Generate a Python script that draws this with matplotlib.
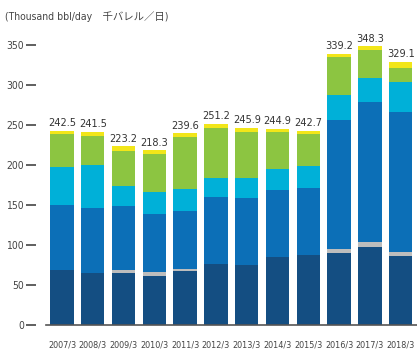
import numpy as np
import matplotlib
matplotlib.use("Agg")
import matplotlib.pyplot as plt

plt.rcParams["font.family"] = ["DejaVu Sans", "Noto Sans CJK JP"]
plt.rcParams["font.stretch"] = "condensed"

years = ["2007/3", "2008/3", "2009/3", "2010/3", "2011/3", "2012/3",
         "2013/3", "2014/3", "2015/3", "2016/3", "2017/3", "2018/3"]

# production by segment, thousand bbl/day (stacked bottom to top)
navy = [68.8, 65.0, 65.0, 61.0, 67.5, 76.0, 75.0, 85.0, 87.5, 90.0, 97.5, 86.0]
gray = [0.0, 0.0, 3.8, 5.0, 2.5, 0.0, 0.0, 0.0, 0.0, 5.0, 6.2, 5.0]
blue = [81.2, 81.7, 80.0, 73.0, 72.5, 84.0, 83.8, 83.8, 83.5, 161.0, 175.3, 175.0]
cyan = [47.5, 53.3, 25.2, 27.7, 27.5, 24.0, 25.0, 26.2, 27.8, 31.5, 30.0, 38.0]
green = [41.5, 36.7, 43.5, 47.3, 65.0, 62.0, 57.9, 46.0, 40.0, 47.5, 35.0, 17.5]
yellow = [3.5, 4.8, 5.7, 4.3, 4.6, 5.2, 4.2, 3.9, 3.9, 4.2, 4.3, 7.6]

series = [navy, gray, blue, cyan, green, yellow]
colors = ["#144e82", "#bdbdbd", "#0c6fb7", "#00b0d8", "#8cc541", "#f2e619"]

W, H = 417, 349
fig = plt.figure(figsize=(W / 100, H / 100), dpi=100)
ax = fig.add_axes([46 / W, (H - 325) / H, (W - 46) / W, 280 / H])

x = np.arange(len(years))
bottom = np.zeros(len(years))
for vals, c in zip(series, colors):
    ax.bar(x, vals, width=0.76, bottom=bottom, color=c, linewidth=0)
    bottom += np.array(vals)

# totals above each stack
for xi, tot in zip(x, bottom):
    ax.text(xi, tot + 3.5, f"{tot:.1f}", ha="center", va="bottom",
            fontsize=7.8, color="#333333")

ax.set_xlim(-0.52, 11.53)
ax.set_ylim(0, 350)
ax.set_yticks(range(0, 351, 50))
ax.set_xticks(x)
ax.set_xticklabels(years)

for s in ["top", "right"]:
    ax.spines[s].set_visible(False)
ax.spines["left"].set_position(("outward", 7))
ax.spines["left"].set_visible(False)
ax.spines["bottom"].set_color("#555555")
ax.spines["bottom"].set_linewidth(1.2)

ax.tick_params(axis="y", length=7, width=1.2, color="#444444", pad=2,
               labelsize=7.5, labelcolor="#444444")
ax.tick_params(axis="x", length=0, pad=11, labelsize=6.5, labelcolor="#444444")

fig.text(5 / W, 1 - 17 / H, "(Thousand bbl/day\u3000千バレル／日)",
         ha="left", va="center", fontsize=7.5, color="#444444")

fig.savefig("out.png", dpi=100)
